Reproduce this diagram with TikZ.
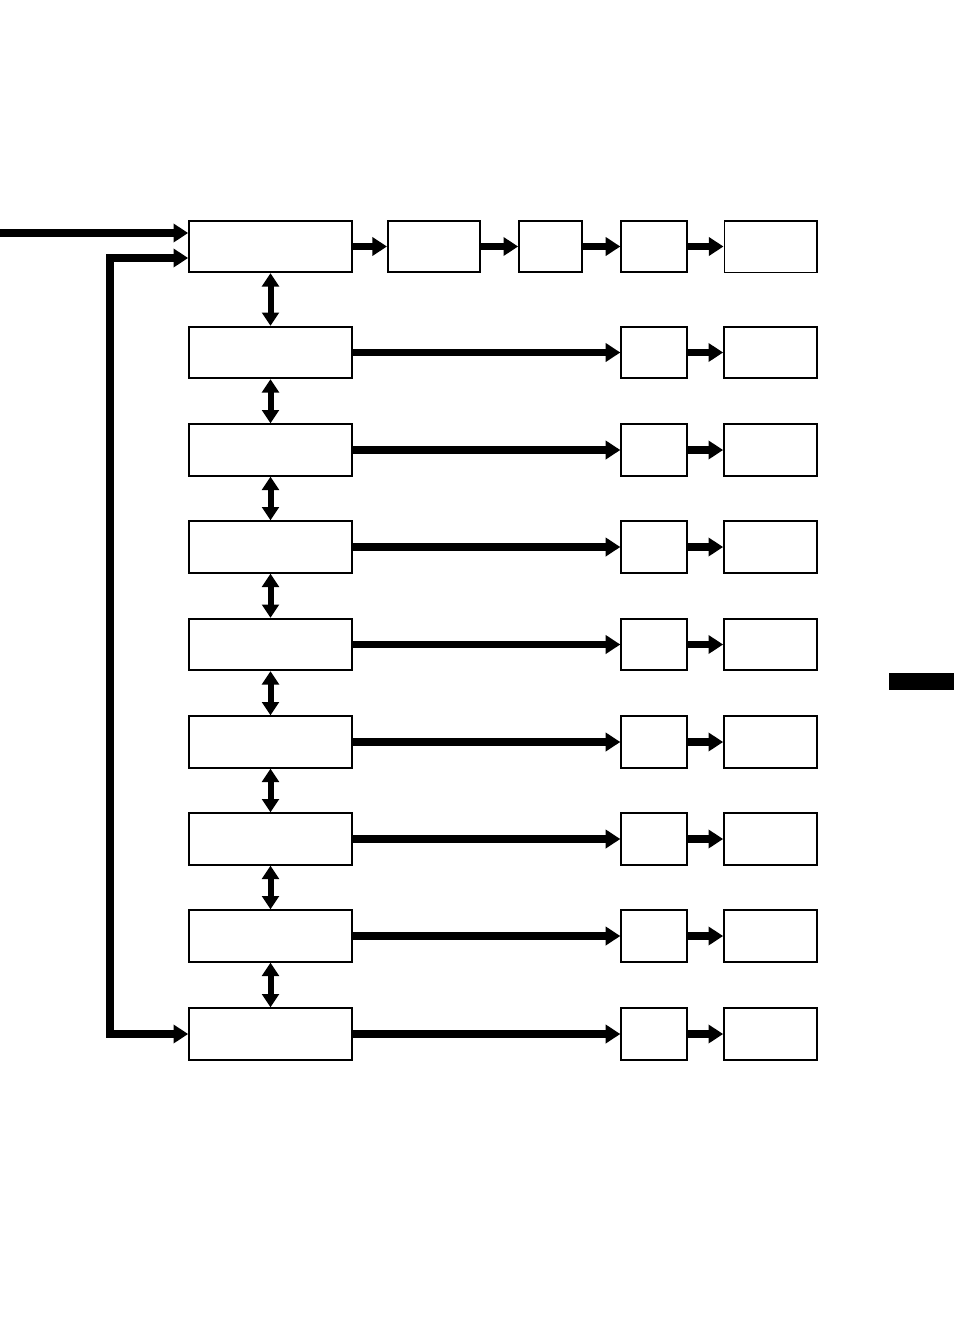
\documentclass[tikz,border=0pt]{standalone}
\usetikzlibrary{arrows.meta}
\begin{document}
\begin{tikzpicture}[x=0.75pt,y=-0.75pt,
  box/.style={draw,line width=1.5pt,inner sep=0pt,minimum height=38.5pt},
  lbox/.style={box,minimum width=122pt},
  dbox/.style={box,minimum width=49pt},
  ebox/.style={box,minimum width=69.5pt},
  flow/.style={line width=5.5pt,-{Triangle[length=11pt,width=13.5pt]}},
  flowtwo/.style={line width=5.5pt,line join=miter,{Triangle[length=11pt,width=13.5pt]}-{Triangle[length=11pt,width=13.5pt]}},
  link/.style={line width=4.5pt,{Triangle[length=10pt,width=12.5pt]}-{Triangle[length=10pt,width=12.5pt]}}]
\useasboundingbox (0,0) rectangle (954,1335);
% top row
\node[lbox] (L1) at (270.5,246.5) {};
\node[box,minimum width=69pt] (B) at (434,246.5) {};
\node[box,minimum width=47pt] (C) at (550.5,246.5) {};
\node[dbox] (D1) at (654,246.5) {};
\node[ebox,line width=1pt] (E1) at (770.5,246.5) {};
\draw[flow] (L1.east) -- (B.west);
\draw[flow] (B.east) -- (C.west);
\draw[flow] (C.east) -- (D1.west);
\draw[flow] (D1.east) -- (E1.west);
% other rows
\foreach \i/\y in {2/352.5,3/450,4/547,5/644.5,6/742,7/839,8/936,9/1034}{
  \node[lbox] (L\i) at (270.5,\y) {};
  \node[dbox] (D\i) at (654,\y) {};
  \node[ebox] (E\i) at (770.5,\y) {};
  \draw[flow] (L\i.east) -- (D\i.west);
  \draw[flow] (D\i.east) -- (E\i.west);
}
% vertical links
\foreach \a/\b in {1/2,2/3,3/4,4/5,5/6,6/7,7/8,8/9}{
  \draw[link] (L\a.south) -- (L\b.north);
}
% input and feedback
\coordinate (in) at (0,233);
\coordinate (fb) at (110,258);
\draw[flow] (in) -- (in -| L1.west);
\draw[flowtwo] (L9.west) -| (fb) -- (fb -| L1.west);
% side tab
\node[fill=black,inner sep=0pt,minimum width=48.75pt,minimum height=12.75pt] (tab) at (921.5,681.5) {};
\end{tikzpicture}
\end{document}
